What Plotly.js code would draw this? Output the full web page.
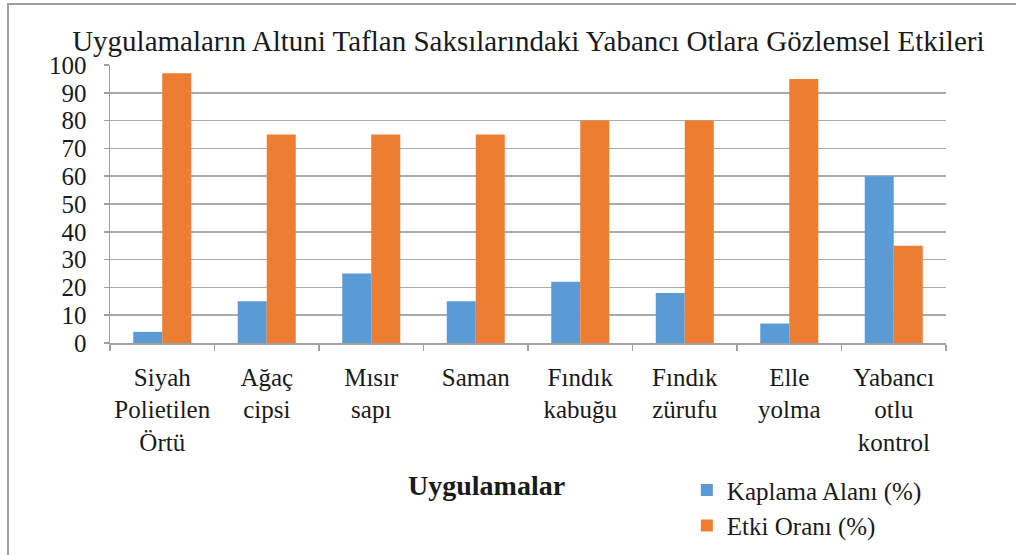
<!DOCTYPE html>
<html>
<head>
<meta charset="utf-8">
<script src="https://cdn.plot.ly/plotly-3.0.1.min.js"></script>
<style>
  html, body { margin: 0; padding: 0; background: #fff; }
  #frame { position: absolute; left: 7px; top: 3px; width: 1020px; height: 552px;
           border-left: 2px solid #a0a0a0; border-top: 2px solid #a0a0a0; box-sizing: border-box; pointer-events: none; }
  #chart { width: 1016px; height: 555px; }
</style>
</head>
<body>
<div id="chart"></div>
<div id="frame"></div>
<script>
const categories = [
  "Siyah<br>Polietilen<br>Örtü",
  "Ağaç<br>cipsi",
  "Mısır<br>sapı",
  "Saman",
  "Fındık<br>kabuğu",
  "Fındık<br>zürufu",
  "Elle<br>yolma",
  "Yabancı<br>otlu<br>kontrol"
];
const kaplamaAlani = [4, 15, 25, 15, 22, 18, 7, 60];
const etkiOrani = [97, 75, 75, 75, 80, 80, 95, 35];
const seriesNames = ["Kaplama Alanı (%)", "Etki Oranı (%)"];
const chartTitle = "Uygulamaların Altuni Taflan Saksılarındaki Yabancı Otlara Gözlemsel Etkileri";
const xTitle = "Uygulamalar";
const yTicks = [0, 10, 20, 30, 40, 50, 60, 70, 80, 90, 100];

const font = "Liberation Serif";

const data = [
  { type: "bar", x: categories, y: kaplamaAlani, name: seriesNames[0],
    marker: { color: "#5b9bd5" } },
  { type: "bar", x: categories, y: etkiOrani, name: seriesNames[1],
    marker: { color: "#ed7d31" } }
];

const layout = {
  width: 1016, height: 555,
  margin: { l: 110, r: 70, t: 65, b: 212 },
  paper_bgcolor: "#fff", plot_bgcolor: "#fff",
  font: { family: font, size: 25, color: "#1a1a1a" },
  title: { text: chartTitle, font: { family: font, size: 29, color: "#1a1a1a" },
           x: 0.52, xanchor: "center", y: 0.927, yanchor: "middle" },
  barmode: "group", bargap: 0.445, bargroupgap: 0,
  showlegend: true,
  legend: { x: 0.69, xanchor: "left", xref: "paper", y: 0.158, yanchor: "top", yref: "container",
            font: { family: font, size: 25, color: "#1a1a1a" },
            tracegroupgap: 0, itemwidth: 30, bgcolor: "rgba(0,0,0,0)" },
  xaxis: {
    type: "category", tickson: "boundaries", ticks: "outside", ticklen: 6, tickcolor: "#a0a0a0",
    tickwidth: 1.5, showline: true, linecolor: "#a0a0a0", linewidth: 1.5,
    showgrid: false, tickangle: 0, tickfont: { family: font, size: 25, color: "#1a1a1a" },
    ticklabelstandoff: 11, automargin: false
  },
  yaxis: {
    range: [0, 100], tickvals: yTicks, ticktext: yTicks.map(String),
    ticks: "outside", ticklen: 5, tickcolor: "#a0a0a0", tickwidth: 1.5,
    showline: true, linecolor: "#a0a0a0", linewidth: 1.5,
    showgrid: true, gridcolor: "#aaaaaa", gridwidth: 1.5, zeroline: false,
    tickfont: { family: font, size: 25, color: "#1a1a1a" }, ticklabelstandoff: 12,
    automargin: false
  },
  annotations: [
    { text: "<b>" + xTitle + "</b>", xref: "paper", yref: "paper",
      x: (486 - 110) / 836, y: (343 - 485) / 278, xanchor: "center", yanchor: "middle",
      showarrow: false, font: { family: font, size: 28, color: "#1a1a1a" } }
  ]
};

Plotly.newPlot("chart", data, layout, { displayModeBar: false, staticPlot: true });
</script>
</body>
</html>
